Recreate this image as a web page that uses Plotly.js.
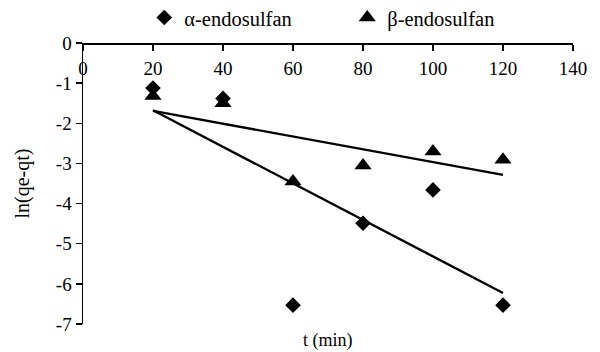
<!DOCTYPE html>
<html>
<head>
<meta charset="utf-8">
<script src="https://cdn.plot.ly/plotly-3.0.1.min.js"></script>
<style>html,body{margin:0;padding:0;background:#fff}#chart{width:600px;height:352px}</style>
</head>
<body>
<div id="chart"></div>
<script>
const timeMin = [20, 40, 60, 80, 100, 120];
const alphaLn = [-1.12, -1.38, -6.53, -4.49, -3.66, -6.53];
const betaLn = [-1.32, -1.50, -3.45, -3.05, -2.70, -2.91];
const seriesNames = ['α-endosulfan', 'β-endosulfan'];
const xTicks = [0, 20, 40, 60, 80, 100, 120, 140];
const yTicks = [0, -1, -2, -3, -4, -5, -6, -7];

function linFit(x, y) {
  const n = x.length;
  const mx = x.reduce((a, b) => a + b, 0) / n;
  const my = y.reduce((a, b) => a + b, 0) / n;
  let sxy = 0, sxx = 0;
  for (let i = 0; i < n; i++) { sxy += (x[i] - mx) * (y[i] - my); sxx += (x[i] - mx) ** 2; }
  const m = sxy / sxx, c = my - m * mx;
  const xs = [x[0], x[n - 1]];
  return { x: xs, y: xs.map(v => m * v + c) };
}
const fa = linFit(timeMin, alphaLn);
const fb = linFit(timeMin, betaLn);

const FAM = 'Liberation Serif, Times New Roman, serif';
const f = (s) => ({ family: FAM, size: s, color: '#000' });

const data = [
  { x: fa.x, y: fa.y, mode: 'lines', line: { color: '#000', width: 2.4 }, showlegend: false, hoverinfo: 'skip' },
  { x: fb.x, y: fb.y, mode: 'lines', line: { color: '#000', width: 2.4 }, showlegend: false, hoverinfo: 'skip' },
  { x: timeMin, y: alphaLn, name: seriesNames[0], mode: 'markers', marker: { symbol: 'diamond', size: 12, color: '#000' } },
  { x: timeMin, y: betaLn, name: seriesNames[1], mode: 'markers', marker: { symbol: 'triangle-up', size: 15, color: '#000' } }
];

const layout = {
  width: 600, height: 352,
  margin: { l: 83, r: 27, t: 43, b: 28, autoexpand: false },
  paper_bgcolor: '#fff', plot_bgcolor: '#fff',
  font: f(18),
  showlegend: true,
  legend: { orientation: 'h', x: 0.125, xanchor: 'left', y: 1.09, yanchor: 'middle', font: f(20.5), itemwidth: 30, entrywidth: 158, entrywidthmode: 'pixels' },
  xaxis: {
    range: [0, 140], tickvals: xTicks, ticktext: xTicks.map(String),
    anchor: 'free', position: 1, side: 'bottom',
    ticks: 'outside', ticklen: 6, tickcolor: '#000', tickwidth: 1.5,
    showline: true, linecolor: '#000', linewidth: 1.5, ticklabelstandoff: 2,
    showgrid: false, zeroline: false, tickfont: f(19)
  },
  yaxis: {
    range: [-7, 0], tickvals: yTicks, ticktext: yTicks.map(String),
    ticks: 'outside', ticklen: 6, tickcolor: '#000', tickwidth: 1.5,
    showline: true, linecolor: '#000', linewidth: 1.5,
    showgrid: false, zeroline: false, tickfont: f(19),
    title: { text: 'ln(qe-qt)', font: f(20), standoff: 21 }
  },
  annotations: [
    { text: 't (min)', xref: 'paper', yref: 'paper', x: 0.5, y: 0, yanchor: 'top', yshift: -4, showarrow: false, font: f(18) }
  ]
};

Plotly.newPlot('chart', data, layout, { staticPlot: true, displayModeBar: false });
</script>
</body>
</html>
